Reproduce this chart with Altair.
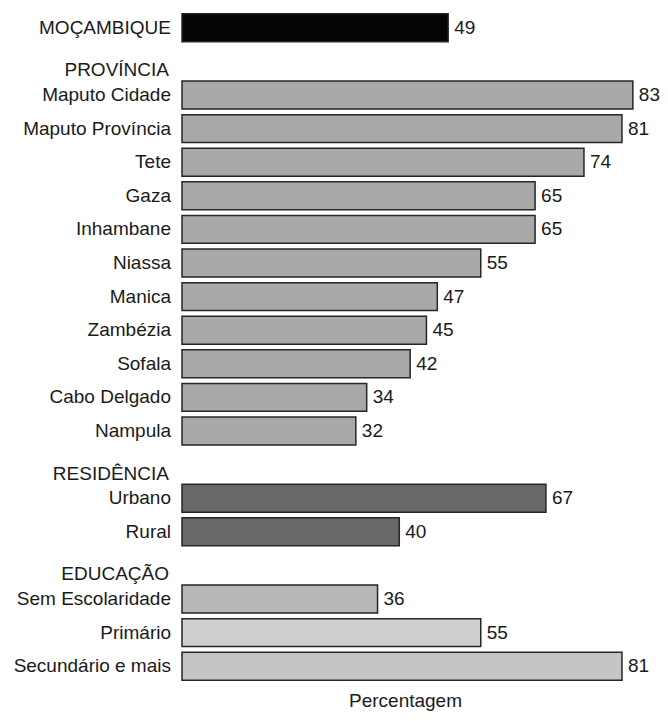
import altair as alt
import pandas as pd

categories = [
    "MOÇAMBIQUE", "PROVÍNCIA", "Maputo Cidade", "Maputo Província", "Tete", "Gaza",
    "Inhambane", "Niassa", "Manica", "Zambézia", "Sofala", "Cabo Delgado", "Nampula",
    "RESIDÊNCIA", "Urbano", "Rural", "EDUCAÇÃO", "Sem Escolaridade", "Primário",
    "Secundário e mais",
]
values = [49, None, 83, 81, 74, 65, 65, 55, 47, 45, 42, 34, 32, None, 67, 40, None, 36, 55, 81]
groups = [
    "total", "header", "prov", "prov", "prov", "prov", "prov", "prov", "prov", "prov",
    "prov", "prov", "prov", "header", "res", "res", "header", "sem", "prim", "sec",
]

group_domain = ["total", "prov", "res", "sem", "prim", "sec"]
group_colors = ["#050505", "#a9a9a9", "#686868", "#b8b8b8", "#cfcfcf", "#c5c5c5"]

df = pd.DataFrame({"label": categories, "value": values, "group": groups})

FONT = "Liberation Sans"
FS = 19

y_enc = alt.Y(
    "label:N",
    sort=categories,
    scale=alt.Scale(domain=categories, paddingInner=0.17, paddingOuter=0.085),
    axis=None,
)
x_enc = alt.X(
    "value:Q",
    scale=alt.Scale(domain=[0, 84.5]),
    axis=alt.Axis(
        title="Percentagem", labels=False, ticks=False, domain=False, grid=False,
        titlePadding=8, titleFontSize=FS, titleFont=FONT, titleFontWeight="normal",
        titleColor="#1a1a1a", titleX=223,
    ),
)

base = alt.Chart(df)

bars = base.transform_filter("datum.value != null").mark_bar(
    stroke="#262626", strokeWidth=1.5
).encode(
    x=x_enc,
    y=y_enc,
    color=alt.Color("group:N", scale=alt.Scale(domain=group_domain, range=group_colors), legend=None),
)

value_text = base.transform_filter("datum.value != null").mark_text(
    align="left", dx=6, font=FONT, fontSize=FS, color="#1a1a1a"
).encode(x=x_enc, y=y_enc, text=alt.Text("value:Q"))

cat_text = base.transform_filter("datum.group != 'header'").mark_text(
    align="right", font=FONT, fontSize=FS, color="#1a1a1a"
).encode(x=alt.value(-11), y=y_enc, text="label:N")

head_text = base.transform_filter("datum.group == 'header'").mark_text(
    align="right", dy=9, font=FONT, fontSize=FS, color="#1a1a1a"
).encode(x=alt.value(-13), y=y_enc, text="label:N")

chart = alt.layer(bars, value_text, cat_text, head_text).properties(
    width=459,
    height=672,
    autosize=alt.AutoSizeParams(type="none"),
    padding={"left": 174, "top": 3, "right": 19, "bottom": 30},
    background="white",
).configure_view(stroke=None)

chart.save("out.html", embed_options={"renderer": "svg", "actions": False})
